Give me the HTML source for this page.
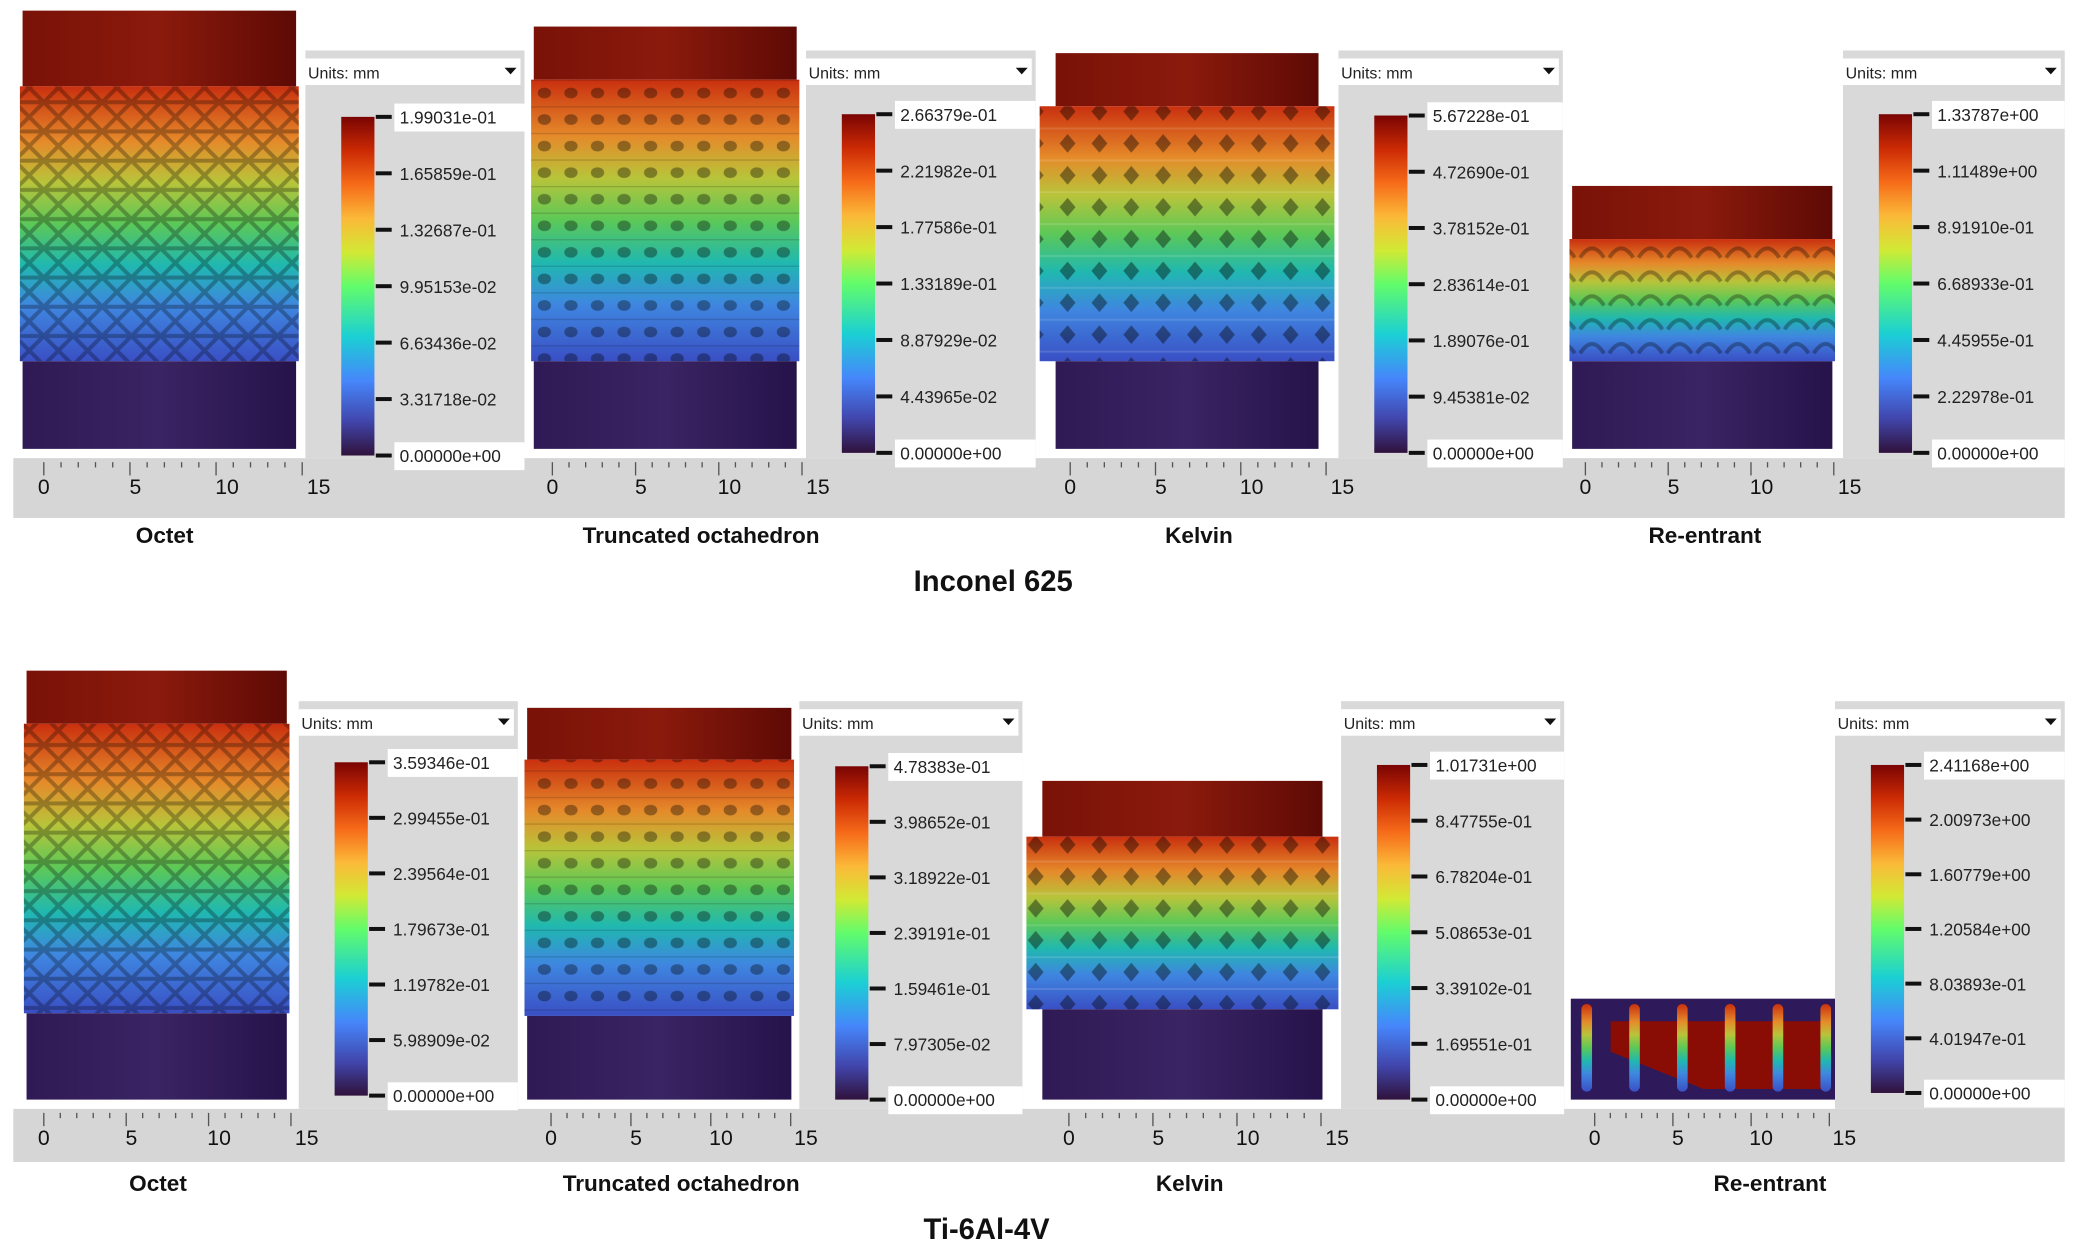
<!DOCTYPE html>
<html><head><meta charset="utf-8">
<style>
html,body{margin:0;padding:0;background:#fff;}
svg{display:block;}
text{font-family:"Liberation Sans",sans-serif;}
</style></head>
<body>
<svg id="fig" width="2082" height="1251" viewBox="0 0 1568 942" preserveAspectRatio="none" xmlns="http://www.w3.org/2000/svg">
<defs>
<linearGradient id="cbar" x1="0" y1="1" x2="0" y2="0">
<stop offset="0" stop-color="#30123b"/><stop offset="0.1" stop-color="#4145ab"/>
<stop offset="0.22" stop-color="#4686fb"/><stop offset="0.35" stop-color="#1bcfd4"/>
<stop offset="0.5" stop-color="#62fc6b"/><stop offset="0.6" stop-color="#d2e935"/>
<stop offset="0.7" stop-color="#fbb938"/><stop offset="0.8" stop-color="#f66b19"/>
<stop offset="0.9" stop-color="#cb2a04"/><stop offset="1" stop-color="#7a0403"/></linearGradient>
<linearGradient id="lat" x1="0" y1="1" x2="0" y2="0">
<stop offset="0" stop-color="#3a4fc4"/><stop offset="0.2" stop-color="#3f86e0"/>
<stop offset="0.35" stop-color="#20b8b0"/><stop offset="0.5" stop-color="#5cc858"/>
<stop offset="0.65" stop-color="#b8c43a"/><stop offset="0.8" stop-color="#e58a2a"/>
<stop offset="1" stop-color="#c9300f"/></linearGradient>
<linearGradient id="cap" x1="0" y1="0" x2="1" y2="0">
<stop offset="0" stop-color="#7a1208"/><stop offset="0.5" stop-color="#8a1a0c"/><stop offset="1" stop-color="#5e0a05"/></linearGradient>
<linearGradient id="base" x1="0" y1="0" x2="1" y2="0">
<stop offset="0" stop-color="#2f1a55"/><stop offset="0.5" stop-color="#3a2463"/><stop offset="1" stop-color="#26134a"/></linearGradient>
<pattern id="pOct" width="22" height="22" patternUnits="userSpaceOnUse">
<path d="M0 0L22 22M22 0L0 22M0 11H22" stroke="rgba(0,0,0,0.28)" stroke-width="3" fill="none"/></pattern>
<pattern id="pCell" width="20" height="20" patternUnits="userSpaceOnUse">
<ellipse cx="10" cy="10" rx="5" ry="4" fill="rgba(0,0,0,0.35)"/><path d="M0 0H20" stroke="rgba(0,0,0,0.15)" stroke-width="2"/></pattern>
<pattern id="pKel" width="24" height="24" patternUnits="userSpaceOnUse">
<path d="M12 5L18 12L12 19L6 12Z" fill="rgba(0,0,0,0.4)"/><path d="M0 0H24" stroke="rgba(255,255,255,0.12)" stroke-width="3"/></pattern>
<pattern id="pRe" width="22" height="18" patternUnits="userSpaceOnUse">
<path d="M2 14Q11 0 20 14" stroke="rgba(0,0,0,0.3)" stroke-width="3" fill="none"/></pattern>
</defs>
</svg>
<script>
// tick labels per legend (top row: Inconel 625, bottom row: Ti-6Al-4V)
const topLabels = [
 ["1.99031e-01","1.65859e-01","1.32687e-01","9.95153e-02","6.63436e-02","3.31718e-02","0.00000e+00"],
 ["2.66379e-01","2.21982e-01","1.77586e-01","1.33189e-01","8.87929e-02","4.43965e-02","0.00000e+00"],
 ["5.67228e-01","4.72690e-01","3.78152e-01","2.83614e-01","1.89076e-01","9.45381e-02","0.00000e+00"],
 ["1.33787e+00","1.11489e+00","8.91910e-01","6.68933e-01","4.45955e-01","2.22978e-01","0.00000e+00"]];
const botLabels = [
 ["3.59346e-01","2.99455e-01","2.39564e-01","1.79673e-01","1.19782e-01","5.98909e-02","0.00000e+00"],
 ["4.78383e-01","3.98652e-01","3.18922e-01","2.39191e-01","1.59461e-01","7.97305e-02","0.00000e+00"],
 ["1.01731e+00","8.47755e-01","6.78204e-01","5.08653e-01","3.39102e-01","1.69551e-01","0.00000e+00"],
 ["2.41168e+00","2.00973e+00","1.60779e+00","1.20584e+00","8.03893e-01","4.01947e-01","0.00000e+00"]];
const names = ["Octet","Truncated octahedron","Kelvin","Re-entrant"];
const rulerTicks = [0,5,10,15];

const NS="http://www.w3.org/2000/svg";
const svg=document.getElementById('fig');
function el(tag,attrs,parent){const e=document.createElementNS(NS,tag);for(const k in attrs)e.setAttribute(k,attrs[k]);(parent||svg).appendChild(e);return e;}

const rows=[
 {labels:topLabels,ruler:[345,390],nameY:409,title:"Inconel 625",titleX:748,titleY:445,
  models:[[15,225,8,65,272,338,'pOct'],[400,602,20,60,272,338,'pCell'],[783,1005,40,80,272,338,'pKel'],[1182,1382,140,180,272,338,'pRe']],
  leg:[[230,395,38,88,343],[607,780,38,86,341],[1008,1177,38,87,341],[1388,1555,38,86,341]],
  rul:[[33,240],[416,616],[806,1011],[1194,1393]],
  nameX:[124,528,903,1284]},
 {labels:botLabels,ruler:[835,875],nameY:897,title:"Ti-6Al-4V",titleX:743,titleY:933,
  models:[[18,218,505,545,763,828,'pOct'],[395,598,533,572,765,828,'pCell'],[773,1008,588,630,760,828,'pKel'],[1183,1382,752,752,752,828,'re']],
  leg:[[225,390,528,574,825],[602,770,528,577,828],[1010,1178,528,576,828],[1382,1555,528,576,823]],
  rul:[[33,231],[415,607],[805,1007],[1201,1389]],
  nameX:[119,513,896,1333]}];

rows.forEach((r,ri)=>{
 const band=el('rect',{x:10,y:r.ruler[0],width:1545,height:r.ruler[1]-r.ruler[0],fill:'#d6d6d6'});
 
 
 r.models.forEach((m,i)=>{
  const g=el('g',{});
  
  
  const [x0,x1,ct,cb,lb,bb,pat]=m;
  const inset=(i==2)?12:2;
  if(pat==='re'){
   el('rect',{x:x0,y:lb,width:x1-x0,height:bb-lb,fill:'#2e1a5a'},g);
   el('path',{d:`M${x0+30} ${lb+17}H${x1-8}V${bb-8}H${x0+100}L${x0+30} ${lb+40}Z`,fill:'#8a0d05'},g);
   for(let k=0;k<6;k++){const sx=x0+8+k*36;el('rect',{x:sx,y:lb+4,width:8,height:66,rx:4,fill:'url(#lat)'},g);}
   return;
  }
  el('rect',{x:x0+inset,y:ct,width:x1-x0-2*inset,height:cb-ct,fill:'url(#cap)'},g);
  el('rect',{x:x0,y:cb,width:x1-x0,height:lb-cb,fill:'url(#lat)'},g);
  el('rect',{x:x0,y:cb,width:x1-x0,height:lb-cb,fill:'url(#'+pat+')'},g);
  el('rect',{x:x0+inset,y:lb,width:x1-x0-2*inset,height:bb-lb,fill:'url(#base)'},g);
 });
 r.leg.forEach((L,i)=>{
  const [lx0,lx1,ly,by0,by1]=L;
  const g=el('g',{});
  
  
  el('rect',{x:lx0,y:ly,width:lx1-lx0,height:r.ruler[0]-ly,fill:'#d9d9d9'},g);
  const ub=el('rect',{x:lx0,y:ly+6,width:lx1-lx0-3,height:20,fill:'#fff'},g);
  
  
  el('text',{x:lx0+2,y:ly+21,'font-size':12,fill:'#222'},g).textContent='Units: mm';
  el('path',{d:`M${lx1-15} ${ly+13}h9l-4.5 5z`,fill:'#111'},g);
  el('rect',{x:lx0+27,y:by0,width:25,height:by1-by0,fill:'url(#cbar)'},g);
  const labs=r.labels[i];
  labs.forEach((t,k)=>{
   const yy=by0+(by1-by0)*k/(labs.length-1);
   el('rect',{x:lx0+53,y:yy-1.5,width:12,height:3,fill:'#111'},g);
   if(k===0||k===labs.length-1) el('rect',{x:lx0+67,y:yy-10,width:lx1-lx0-67,height:21,fill:'#fff'},g);
   const tx=el('text',{x:lx0+71,y:yy+5,'font-size':13,fill:'#222'},g);
   tx.textContent=t;
   
   
  });
 });
 r.rul.forEach((R,i)=>{
  const g=el('g',{});
  
  
  const [a,b]=R, y0=r.ruler[0]+3;
  for(let k=0;k<=16;k++){const xx=a+(b-a)*k/15*0.94; if(xx>b)break;
   el('line',{x1:xx,y1:y0,x2:xx,y2:y0+(k%5===0?10:4),stroke:'#555','stroke-width':1},g);}
  rulerTicks.forEach(v=>{
   const xx=a+(b-a)*v/15;
   el('text',{x:xx,y:y0+24,'font-size':16,fill:'#111','text-anchor':'middle'},g).textContent=String(v);
  });
 });
 names.forEach((n,i)=>{
  const t=el('text',{x:r.nameX[i],y:r.nameY,'font-size':17,'font-weight':'bold',fill:'#111','text-anchor':'middle'});
  t.textContent=n;
  
  
 });
 const tt=el('text',{x:r.titleX,y:r.titleY,'font-size':22,'font-weight':'bold',fill:'#111','text-anchor':'middle'});
 tt.textContent=r.title;
 
 
});
</script>
</body></html>
